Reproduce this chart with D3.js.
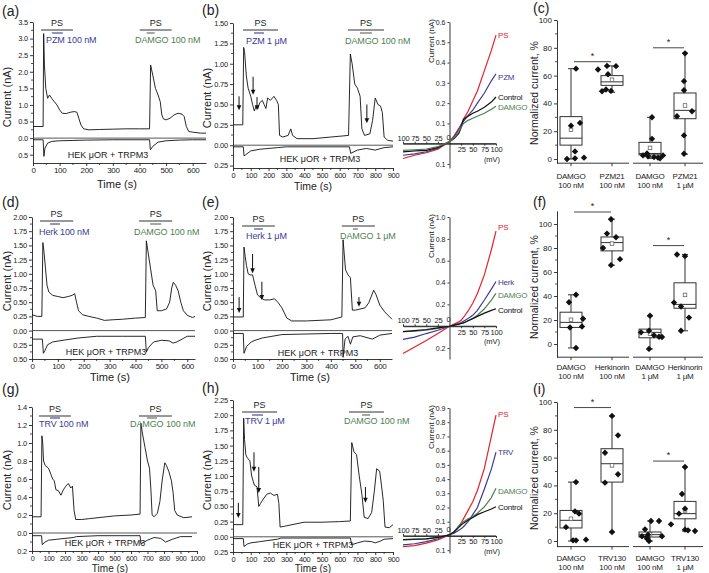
<!DOCTYPE html>
<html><head><meta charset="utf-8">
<script src="https://cdn.jsdelivr.net/npm/d3@7"></script>
<style>body{margin:0;background:#fff}svg{display:block}</style>
</head><body><svg id="c" width="709" height="573"></svg>
<script>
// ================= DATA =================
// Time traces: [time (s), current (nA)] ; top = outward current, bottom = inward current
const aTop = [[0,0.35],[38,0.35],[40,3.15],[43,2.2],[48,1.5],[55,1.2],[62,1.3],[70,1.2],[80,1.1],[90,1.0],[100,0.85],[110,0.75],[125,0.74],[140,0.78],[155,0.8],[165,0.78],[172,0.6],[180,0.4],[190,0.28],[210,0.25],[250,0.26],[300,0.27],[350,0.28],[400,0.28],[438,0.28],[442,2.2],[450,1.9],[460,1.5],[470,1.3],[478,1.1],[484,0.7],[490,0.58],[500,0.55],[515,0.6],[530,0.7],[545,0.75],[560,0.72],[568,0.65],[576,0.35],[585,0.2],[600,0.18],[630,0.15],[650,0.15]];
const aBot = [[0,-0.05],[38,-0.05],[41,-0.55],[45,-0.3],[55,-0.15],[70,-0.1],[100,-0.08],[150,-0.07],[200,-0.06],[300,-0.05],[438,-0.05],[441,-0.35],[450,-0.25],[470,-0.12],[500,-0.08],[550,-0.06],[600,-0.05],[650,-0.05]];
const aPS = [[30,150],[401,521]];
const aDrug = [[71,112],[427,457]];
const aDrugNames = ["PZM 100 nM","DAMGO 100 nM"];

const bTop = [[0,0.25],[55,0.25],[60,1.2],[65,1.15],[75,0.85],[85,0.7],[100,0.6],[110,0.5],[120,0.42],[130,0.48],[140,0.45],[150,0.52],[165,0.55],[175,0.5],[185,0.45],[195,0.58],[210,0.55],[230,0.6],[245,0.55],[255,0.5],[262,0.12],[280,0.1],[310,0.12],[325,0.2],[335,0.12],[360,0.08],[450,0.08],[550,0.1],[650,0.12],[660,1.12],[670,1.0],[685,0.75],[700,0.7],[715,0.6],[725,0.2],[740,0.12],[770,0.14],[785,0.3],[800,0.58],[815,0.5],[830,0.48],[840,0.4],[850,0.1],[870,0.06],[900,0.05]];
const bBot = [[0,-0.02],[58,-0.02],[62,-0.13],[70,-0.12],[100,-0.07],[150,-0.05],[250,-0.03],[300,-0.02],[655,-0.02],[662,-0.1],[700,-0.06],[750,-0.04],[800,-0.06],[850,-0.03],[900,-0.02]];
const bPS = [[56,253],[647,849]];
const bDrug = [[118,174],[714,782]];
const bDrugNames = ["PZM 1 μM","DAMGO 100 nM"];
const bArrows = [[34,0.6,0.43],[113,0.84,0.62],[135,0.59,0.43],[753,0.5,0.27]];

const dTop = [[0,0.28],[20,0.25],[38,0.25],[42,1.55],[46,1.4],[52,1.1],[58,0.8],[65,0.68],[80,0.62],[100,0.6],[120,0.58],[140,0.6],[155,0.62],[165,0.65],[172,0.5],[180,0.35],[195,0.28],[220,0.25],[250,0.22],[280,0.18],[310,0.19],[350,0.2],[400,0.22],[438,0.23],[442,1.58],[448,1.4],[458,1.1],[468,0.8],[478,0.7],[484,0.35],[500,0.35],[520,0.38],[532,0.5],[540,0.75],[546,0.85],[555,0.8],[565,0.7],[575,0.5],[585,0.35],[600,0.27],[620,0.23],[630,0.25]];
const dBot = [[0,-0.15],[40,-0.15],[44,-0.4],[50,-0.35],[60,-0.25],[80,-0.2],[120,-0.17],[180,-0.13],[250,-0.1],[350,-0.1],[438,-0.1],[442,-0.38],[450,-0.3],[470,-0.2],[500,-0.17],[530,-0.18],[545,-0.22],[560,-0.2],[580,-0.15],[600,-0.1],[630,-0.1]];
const dPS = [[31,159],[414,542]];
const dDrug = [[70,108],[457,499]];
const dDrugNames = ["Herk 100 nM","DAMGO 100 nM"];

const eTop = [[0,0.24],[42,0.24],[45,1.47],[50,1.3],[55,1.15],[62,1.0],[70,0.98],[80,0.98],[90,0.8],[100,0.63],[115,0.57],[130,0.54],[150,0.54],[170,0.56],[185,0.49],[200,0.4],[220,0.22],[240,0.17],[300,0.17],[400,0.19],[445,0.24],[450,1.6],[460,1.07],[470,0.98],[480,0.93],[488,0.36],[500,0.36],[540,0.4],[555,0.49],[575,0.71],[585,0.63],[600,0.45],[620,0.33],[650,0.2]];
const eBot = [[0,-0.05],[42,-0.05],[45,-0.4],[55,-0.28],[65,-0.24],[75,-0.2],[90,-0.17],[120,-0.13],[200,-0.07],[400,-0.05],[448,-0.05],[450,-0.47],[458,-0.15],[470,-0.1],[480,-0.24],[490,-0.11],[520,-0.09],[570,-0.15],[600,-0.08],[650,-0.05]];
const ePS = [[37,171],[445,580]];
const eDrug = [[86,122],[490,510]];
const eDrugNames = ["Herk 1 μM","DAMGO 1 μM"];
const eArrows = [[25,0.59,0.31],[80,1.35,1.01],[118,0.86,0.54],[515,0.59,0.42]];

const gTop = [[0,0.18],[55,0.18],[60,1.08],[65,1.0],[70,0.8],[80,0.75],[100,0.72],[115,0.65],[125,0.6],[135,0.58],[145,0.48],[160,0.47],[175,0.42],[190,0.48],[205,0.52],[220,0.55],[235,0.5],[245,0.52],[255,0.25],[265,0.15],[300,0.15],[350,0.16],[400,0.17],[500,0.19],[600,0.2],[655,0.21],[660,1.22],[670,1.1],[685,0.95],[700,0.8],[712,0.72],[720,0.5],[728,0.2],[740,0.18],[760,0.22],[775,0.35],[790,0.6],[805,0.78],[815,0.75],[830,0.68],[845,0.58],[855,0.45],[865,0.25],[880,0.2],[920,0.17],[970,0.18]];
const gBot = [[0,-0.03],[58,-0.03],[62,-0.13],[80,-0.1],[100,-0.08],[150,-0.07],[250,-0.05],[270,-0.04],[400,-0.03],[655,-0.03],[660,-0.12],[700,-0.08],[740,-0.05],[780,-0.06],[810,-0.1],[850,-0.07],[900,-0.04],[970,-0.04]];
const gPS = [[42,236],[648,848]];
const gDrug = [[109,170],[697,758]];
const gDrugNames = ["TRV 100 nM","DAMGO 100 nM"];

const hTop = [[0,0.2],[55,0.2],[60,1.95],[65,1.6],[72,1.35],[80,1.3],[95,1.25],[105,1.0],[120,0.85],[135,0.82],[145,0.5],[155,0.55],[170,0.62],[190,0.7],[210,0.72],[230,0.68],[250,0.7],[258,0.55],[265,0.16],[300,0.18],[400,0.24],[500,0.24],[600,0.25],[660,0.26],[668,1.55],[680,1.4],[695,1.35],[710,1.0],[725,0.7],[738,0.32],[760,0.3],[780,0.4],[795,0.75],[808,1.12],[825,1.08],[835,0.85],[845,0.6],[855,0.16],[880,0.15],[900,0.2]];
const hBot = [[0,-0.03],[58,-0.03],[62,-0.16],[80,-0.12],[100,-0.1],[150,-0.08],[250,-0.04],[270,-0.02],[660,-0.02],[668,-0.13],[700,-0.1],[740,-0.07],[780,-0.08],[800,-0.1],[830,-0.07],[850,-0.04],[900,-0.03]];
const hPS = [[51,248],[652,849]];
const hDrug = [[107,169],[726,771]];
const hDrugNames = ["TRV 1 μM","DAMGO 100 nM"];
const hArrows = [[30,0.56,0.31],[118,1.39,1.07],[145,1.15,0.72],[745,0.82,0.56]];

// Tick values
const ticks600 = [0,100,200,300,400,500,600];
const ticks900 = [0,100,200,300,400,500,600,700,800,900];
const ticks1000 = [0,100,200,300,400,500,600,700,800,900,1000];
const aYTicks = [-0.5,0,0.5,1,1.5,2,2.5,3,3.5];
const bYTicks = [-0.25,0,0.25,0.5,0.75,1,1.25,1.5];
const dYTicks = [-0.5,-0.25,0,0.25,0.5,0.75,1,1.25,1.5,1.75,2];
const gYTicks = [-0.2,0,0.2,0.4,0.6,0.8,1,1.2,1.4];
const hYTicks = [-0.25,0,0.25,0.5,0.75,1,1.25,1.5,1.75,2,2.25];

// I-V curves (mV -> nA)
const ivMV = [-100,-75,-50,-25,0,10,20,25,30,40,50,60,75,90,100];
const ivB = {
  PS:[-0.073,-0.057,-0.045,-0.027,0.01,0.04,0.075,0.09,0.12,0.16,0.21,0.26,0.36,0.46,0.535],
  PZM:[-0.057,-0.05,-0.04,-0.022,0.01,0.035,0.07,0.095,0.11,0.14,0.165,0.2,0.25,0.31,0.345],
  Control:[-0.04,-0.036,-0.033,-0.018,0.01,0.025,0.05,0.08,0.12,0.135,0.15,0.16,0.18,0.205,0.23],
  DAMGO:[-0.033,-0.03,-0.027,-0.015,0.01,0.03,0.06,0.08,0.1,0.115,0.125,0.135,0.15,0.17,0.185]};
const ivE = {
  PS:[-0.25,-0.19,-0.13,-0.067,0,0.02,0.04,0.055,0.08,0.14,0.21,0.3,0.47,0.7,0.87],
  Herk:[-0.12,-0.1,-0.067,-0.037,0,0.012,0.025,0.034,0.045,0.07,0.1,0.145,0.24,0.34,0.41],
  DAMGO:[-0.05,-0.045,-0.037,-0.02,0,0.01,0.02,0.025,0.03,0.05,0.07,0.1,0.16,0.24,0.3],
  Control:[-0.05,-0.04,-0.03,-0.015,0,0.01,0.02,0.025,0.03,0.05,0.07,0.09,0.12,0.145,0.16]};
const ivH = {
  PS:[-0.075,-0.068,-0.05,-0.028,0.007,0.03,0.065,0.09,0.12,0.18,0.24,0.32,0.475,0.7,0.85],
  TRV:[-0.063,-0.055,-0.04,-0.02,0.01,0.02,0.04,0.05,0.065,0.1,0.15,0.2,0.33,0.47,0.59],
  DAMGO:[-0.03,-0.025,-0.02,-0.01,0.007,0.03,0.07,0.09,0.1,0.12,0.135,0.16,0.205,0.27,0.335],
  Control:[-0.025,-0.022,-0.02,-0.01,0.007,0.03,0.06,0.077,0.09,0.11,0.13,0.15,0.17,0.19,0.205]};
const ivBTicks = [-0.1,0.1,0.2,0.3,0.4,0.5,0.6];
const ivETicks = [-0.2,0.2,0.4,0.6,0.8,1.0];
const ivHTicks = [-0.1,0.1,0.2,0.3,0.4,0.5,0.6,0.7,0.8,0.9];
const mvLeftTicks = [-100,-75,-50,-25];
const mvRightTicks = [25,50,75,100];

// Box plots: stats = [min, q1, median, q3, max, mean]
const cCats = [["DAMGO","100 nM"],["PZM21","100 nM"],["DAMGO","100 nM"],["PZM21","1 μM"]];
const cStats = [[0,10,15,30.5,65,21],[48,53,55.5,60,67,57],[0.5,3,4,12,30,8],[3.5,29,35,47.5,76,38.5]];
const cPts = [[65,26,24,5.5,1,0.5,0],[67,66.8,64.4,61,50,49,48.8],[30,14.5,4,2.6,2.6,2,1.4,1,0.5],[76,56,49.5,34.4,30.8,17,3.8]];
const cSig = [70,80];
const fCats = [["DAMGO","100 nM"],["Herkinorin","100 nM"],["DAMGO","1 μM"],["Herkinorin","1 μM"]];
const fStats = [[-3.3,13.8,18,26.5,41,20.2],[65.7,77.6,84.5,89.2,104,83.7],[-4.1,5.2,9.7,12.4,23.5,8.6],[11,29.8,33,51,74.6,40.9]];
const fPts = [[41,34.8,21,14.6,13.8,-3.3],[104,92,89,80,70.7,65.7],[23.5,11,9.7,7.2,6,5.8,-4.1],[74.6,73.2,34.5,31.2,22,11]];
const fSig = [110,82];
const iCats = [["DAMGO","100 nM"],["TRV130","100 nM"],["DAMGO","100 nM"],["TRV130","1 μM"]];
const iStats = [[0,9.4,14.9,22,42.4,16],[6.5,42.4,55.6,66.4,90,54.4],[0,2.9,4.6,6.5,14.4,4.8],[7.2,16,19.7,28.5,53.2,22]];
const iPts = [[42.4,21.3,19.7,10,1,0.5,0.5],[90,76,63.5,48,42,6.5],[14.4,14.4,8.4,4.6,3.4,3.4,2.9,1.7,0],[53.2,33.8,23.3,19.7,12,8.2,7.7,7.2]];
const iSig = [96,57.5];
const boxTicks = [0,20,40,60,80,100];

// ================= DRAWING =================
const FONT = '"Liberation Sans", Arial, Helvetica, sans-serif';
const INK = "#222";
const BLUE = "#3a3a98", GREEN = "#4f7f4f", RED = "#e8202a";
const svg = d3.select("#c");

function styleAxis(sel, fs, ls){
  sel.attr("font-family", FONT).attr("font-size", fs);
  if(ls!==undefined) sel.attr("letter-spacing", ls);
  sel.selectAll("path,line").attr("stroke", INK).attr("stroke-width", 0.9);
  sel.selectAll("text").attr("fill", INK);
}
function txt(g, x, y, s, o={}){
  const t = g.append("text").attr("x",x).attr("y",y).text(s)
    .attr("font-family",FONT).attr("font-size",o.fs||9).attr("fill",o.fill||INK)
    .attr("text-anchor",o.anchor||"start");
  if(o.ls!==undefined) t.attr("letter-spacing",o.ls);
  if(o.rot) t.attr("transform",`rotate(-90,${x},${y})`);
  return t;
}
function midTicks(arr){ return arr.slice(1).map((d,i)=>(d+arr[i])/2); }

function tracePanel(p){
  const g = svg.append("g");
  const x = d3.scaleLinear().domain([0,p.tMax]).range([p.x0,p.x1]);
  const y = d3.scaleLinear().domain([p.yMin,p.yMax]).range([p.yBot,p.yTop]);
  const ya = g.append("g").attr("transform",`translate(${p.x0},0)`)
    .call(d3.axisLeft(y).tickValues(p.yTicks).tickFormat(d=>Math.abs(d).toFixed(p.dec)).tickSize(3).tickSizeOuter(0).tickPadding(2));
  styleAxis(ya, 7.5, -0.2);
  g.append("g").selectAll("line").data(midTicks(p.yTicks)).join("line")
    .attr("x1",p.x0-2).attr("x2",p.x0).attr("y1",d=>y(d)).attr("y2",d=>y(d)).attr("stroke",INK).attr("stroke-width",0.8);
  const xa = g.append("g").attr("transform",`translate(0,${p.yBot})`)
    .call(d3.axisBottom(x).tickValues(p.xTicks).tickFormat(d3.format("d")).tickSize(3).tickSizeOuter(0).tickPadding(1.5));
  styleAxis(xa, p.xfs||8, -0.35);
  g.append("g").selectAll("line").data(midTicks(p.xTicks)).join("line")
    .attr("y1",p.yBot).attr("y2",p.yBot+2).attr("x1",d=>x(d)).attr("x2",d=>x(d)).attr("stroke",INK).attr("stroke-width",0.8);
  // zero line
  g.append("line").attr("x1",p.x0).attr("x2",p.x1).attr("y1",y(0)).attr("y2",y(0)).attr("stroke","#444").attr("stroke-width",0.9);
  const line = d3.line().x(d=>x(d[0])).y(d=>y(d[1]));
  [p.top,p.bot].forEach(s=>g.append("path").attr("d",line(s)).attr("fill","none").attr("stroke","#111").attr("stroke-width",0.9));
  // PS bars and drug bars
  p.ps.forEach((b,i)=>{
    g.append("line").attr("x1",x(b[0])).attr("x2",x(b[1])).attr("y1",p.psY).attr("y2",p.psY).attr("stroke","#333").attr("stroke-width",1.1);
    txt(g,(x(b[0])+x(b[1]))/2,p.psY-4,"PS",{fs:9,anchor:"middle"});
  });
  p.drug.forEach((b,i)=>{
    const col = i===0?BLUE:GREEN;
    g.append("line").attr("x1",x(b[0])).attr("x2",x(b[1])).attr("y1",p.drugY).attr("y2",p.drugY).attr("stroke",i===0?BLUE:"#556655").attr("stroke-width",1.1);
    txt(g,p.drugTextX[i],p.drugTextY,p.drugNames[i],{fs:9,fill:col,ls:-0.1});
  });
  (p.arrows||[]).forEach(a=>{
    const ax = x(a[0]), y1 = y(a[1]), y2 = y(a[2]);
    g.append("line").attr("x1",ax).attr("x2",ax).attr("y1",y1).attr("y2",y2-4).attr("stroke","#111").attr("stroke-width",1);
    g.append("path").attr("d",`M${ax-2.3},${y2-5}L${ax+2.3},${y2-5}L${ax},${y2}Z`).attr("fill","#111");
  });
  txt(g,p.hekX,p.hekY,"HEK μOR + TRPM3",{fs:9,anchor:"middle"});
  txt(g,p.ytX,p.ytY,"Current (nA)",{fs:11,anchor:"middle",rot:true});
  txt(g,p.xtX,p.xtY,"Time (s)",{fs:p.xtfs||11,anchor:"middle"});
  txt(svg,p.labX,p.labY,p.label,{fs:14});
}

function ivPanel(p){
  const g = svg.append("g");
  const x = d3.scaleLinear().domain([-100,100]).range([p.x0,p.x1]);
  const y = d3.scaleLinear().domain([p.yMin,p.yMax]).range([p.yBot,p.yTop]);
  const ya = g.append("g").attr("transform",`translate(${x(0)},0)`)
    .call(d3.axisLeft(y).tickValues(p.yTicks).tickFormat(d=>Math.abs(d).toFixed(1)).tickSize(2).tickSizeOuter(0).tickPadding(2));
  styleAxis(ya, 7);
  const xl = g.append("g").attr("transform",`translate(0,${y(0)})`)
    .call(d3.axisTop(x).tickValues(mvLeftTicks).tickFormat(d=>Math.abs(d)).tickSize(2).tickSizeOuter(0).tickPadding(1));
  styleAxis(xl, 7.5, -0.2);
  xl.select("path").remove();
  const xr = g.append("g").attr("transform",`translate(0,${y(0)})`)
    .call(d3.axisBottom(x).tickValues(mvRightTicks).tickFormat(d=>d).tickSize(2).tickSizeOuter(0).tickPadding(1));
  styleAxis(xr, 7.5, -0.2);
  g.append("line").attr("x1",x(-100)).attr("x2",x(100)).attr("y1",y(0)).attr("y2",y(0)).attr("stroke",INK).attr("stroke-width",0.9);
  txt(g,x(0)-1,y(0)-4,"0",{fs:7.5,anchor:"middle"});
  txt(g,x(100)-4,y(0)+18,"(mV)",{fs:7.5,anchor:"middle"});
  txt(g,p.ytX,p.yTop-3,"Current (nA)",{fs:8,anchor:"end",rot:true});
  const line = d3.line().x((d,i)=>x(ivMV[i])).y(d=>y(d));
  p.curves.forEach(c=>{
    g.append("path").attr("d",line(p.data[c.key])).attr("fill","none").attr("stroke",c.col).attr("stroke-width",1.2);
    txt(g,p.x1+2,c.ly,c.key,{fs:8,fill:c.col,ls:-0.2});
  });
}

function boxPanel(p){
  const g = svg.append("g");
  const y = d3.scaleLinear().domain([p.yMin,p.yMax]).range([p.yBot,p.yTop]);
  const ya = g.append("g").attr("transform",`translate(${p.ax},0)`)
    .call(d3.axisLeft(y).tickValues(boxTicks).tickSize(3).tickSizeOuter(0).tickPadding(2));
  styleAxis(ya, 8);
  g.append("g").selectAll("line").data(midTicks(boxTicks)).join("line")
    .attr("x1",p.ax-2).attr("x2",p.ax).attr("y1",d=>y(d)).attr("y2",d=>y(d)).attr("stroke",INK).attr("stroke-width",0.8);
  p.segs.forEach(s=>g.append("line").attr("x1",s[0]).attr("x2",s[1]).attr("y1",p.yBot).attr("y2",p.yBot).attr("stroke",INK).attr("stroke-width",0.9));
  const bw = p.bw;
  p.stats.forEach((s,i)=>{
    const cx = p.cx[i];
    g.append("line").attr("x1",cx).attr("x2",cx).attr("y1",p.yBot).attr("y2",p.yBot+3).attr("stroke",INK).attr("stroke-width",0.9);
    g.append("line").attr("x1",cx).attr("x2",cx).attr("y1",y(s[0])).attr("y2",y(s[1])).attr("stroke","#333");
    g.append("line").attr("x1",cx).attr("x2",cx).attr("y1",y(s[3])).attr("y2",y(s[4])).attr("stroke","#333");
    [s[0],s[4]].forEach(v=>g.append("line").attr("x1",cx-3).attr("x2",cx+3).attr("y1",y(v)).attr("y2",y(v)).attr("stroke","#333"));
    g.append("rect").attr("x",cx-bw/2).attr("y",y(s[3])).attr("width",bw).attr("height",y(s[1])-y(s[3])).attr("fill","none").attr("stroke","#333").attr("stroke-width",1);
    g.append("line").attr("x1",cx-bw/2).attr("x2",cx+bw/2).attr("y1",y(s[2])).attr("y2",y(s[2])).attr("stroke","#333");
    g.append("rect").attr("x",cx-1.8).attr("y",y(s[5])-1.8).attr("width",3.6).attr("height",3.6).attr("fill","#fff").attr("stroke","#555").attr("stroke-width",0.7);
    p.pts[i].forEach((v,j)=>{
      const px = cx + p.jit[i][j], py = y(v);
      g.append("path").attr("d",`M${px},${py-3.2}L${px+3.2},${py}L${px},${py+3.2}L${px-3.2},${py}Z`).attr("fill","#111");
    });
    txt(g,cx,p.catY,p.cats[i][0],{fs:8,anchor:"middle",ls:-0.2});
    txt(g,cx,p.catY+9,p.cats[i][1],{fs:8,anchor:"middle",ls:-0.2});
  });
  p.sig.forEach((v,k)=>{
    const xa = p.cx[2*k]+3, xb = p.cx[2*k+1]-1;
    g.append("line").attr("x1",xa).attr("x2",xb).attr("y1",y(v)).attr("y2",y(v)).attr("stroke","#333").attr("stroke-width",0.9);
    txt(g,(xa+xb)/2,y(v)-3,"*",{fs:9,anchor:"middle"});
  });
  txt(g,538,p.ytY,"Normalized current, %",{fs:10.5,anchor:"middle",rot:true});
  txt(svg,533,p.labY,p.label,{fs:14});
}

// ---------- trace panels ----------
tracePanel({label:"(a)",labX:2,labY:16,x0:33,x1:206,tMax:650,yMin:-0.75,yMax:3.5,yBot:163,yTop:22,dec:1,
  yTicks:aYTicks,xTicks:ticks600,top:aTop,bot:aBot,ps:aPS,drug:aDrug,drugNames:aDrugNames,
  psY:30,drugY:33,drugTextX:[46,135],drugTextY:43,hekX:108,hekY:158,ytX:11,ytY:97,xtX:117,xtY:188});
tracePanel({label:"(b)",labX:202,labY:15,x0:233,x1:393,tMax:900,yMin:-0.28,yMax:1.5,yBot:168,yTop:23,dec:2,xfs:7.5,xtfs:10.5,
  yTicks:bYTicks,xTicks:ticks900,top:bTop,bot:bBot,ps:bPS,drug:bDrug,drugNames:bDrugNames,arrows:bArrows,
  psY:30,drugY:33,drugTextX:[246,345],drugTextY:44,hekX:320,hekY:162,ytX:211,ytY:98,xtX:313,xtY:190});
tracePanel({label:"(d)",labX:2,labY:207,x0:32,x1:195,tMax:630,yMin:-0.5,yMax:2,yBot:359,yTop:217,dec:2,
  yTicks:dYTicks,xTicks:ticks600,top:dTop,bot:dBot,ps:dPS,drug:dDrug,drugNames:dDrugNames,
  psY:221,drugY:224,drugTextX:[39,134],drugTextY:235,hekX:106,hekY:355,ytX:11,ytY:281,xtX:110,xtY:381});
tracePanel({label:"(e)",labX:202,labY:207,x0:233,x1:392,tMax:650,yMin:-0.5,yMax:2,yBot:359,yTop:217,dec:2,
  yTicks:dYTicks,xTicks:ticks600,top:eTop,bot:eBot,ps:ePS,drug:eDrug,drugNames:eDrugNames,arrows:eArrows,
  psY:226,drugY:229,drugTextX:[246,340],drugTextY:239,hekX:318,hekY:356,ytX:211,ytY:281,xtX:310,xtY:381});
tracePanel({label:"(g)",labX:2,labY:394,x0:32,x1:197,tMax:1000,yMin:-0.2,yMax:1.4,yBot:551,yTop:407,dec:1,xfs:7.2,xtfs:10,
  yTicks:gYTicks,xTicks:ticks1000,top:gTop,bot:gBot,ps:gPS,drug:gDrug,drugNames:gDrugNames,
  psY:416,drugY:418,drugTextX:[39,130],drugTextY:427,hekX:105,hekY:546,ytX:11,ytY:480,xtX:110,xtY:572});
tracePanel({label:"(h)",labX:202,labY:393,x0:233,x1:393,tMax:900,yMin:-0.25,yMax:2.25,yBot:552,yTop:400,dec:2,xfs:7.5,xtfs:10,
  yTicks:hYTicks,xTicks:ticks900,top:hTop,bot:hBot,ps:hPS,drug:hDrug,drugNames:hDrugNames,arrows:hArrows,
  psY:412,drugY:415,drugTextX:[245,344],drugTextY:424,hekX:313,hekY:548,ytX:211,ytY:480,xtX:313,xtY:572});

// ---------- I-V panels ----------
ivPanel({x0:403,x1:496,yMin:-0.12,yMax:0.6,yBot:168,yTop:22,yTicks:ivBTicks,data:ivB,ytX:434,
  curves:[{key:"PS",col:RED,ly:38},{key:"PZM",col:BLUE,ly:80},{key:"Control",col:"#111",ly:100},{key:"DAMGO",col:GREEN,ly:110}]});
ivPanel({x0:403,x1:496,yMin:-0.3,yMax:1.0,yBot:359,yTop:217,yTicks:ivETicks,data:ivE,ytX:434,
  curves:[{key:"PS",col:RED,ly:230},{key:"Herk",col:BLUE,ly:285},{key:"DAMGO",col:GREEN,ly:298},{key:"Control",col:"#111",ly:313}]});
ivPanel({x0:403,x1:496,yMin:-0.12,yMax:0.9,yBot:553,yTop:408,yTicks:ivHTicks,data:ivH,ytX:434,
  curves:[{key:"PS",col:RED,ly:417},{key:"TRV",col:BLUE,ly:455},{key:"DAMGO",col:GREEN,ly:494},{key:"Control",col:"#111",ly:510}]});

// ---------- box panels ----------
const cxs = [571,612,650,685];
boxPanel({label:"(c)",labY:13,ax:557,yMin:-3,yMax:100,yBot:163.2,yTop:20,cx:cxs,bw:22,segs:[[557,629],[633,703]],
  stats:cStats,pts:cPts,cats:cCats,sig:cSig,catY:179,ytY:93,
  jit:[[5,9,0,4,13,4,-4],[-5,4,-14,-4,-6,-1,-10],[2,2,-3,-7,13,-2,4,8,10],[0,-1,-1,7,-8,-1,-1]]});
boxPanel({label:"(f)",labY:207,ax:557,yMin:-11,yMax:111,yBot:357.2,yTop:210.8,cx:cxs,bw:22,segs:[[557,629],[633,703]],
  stats:fStats,pts:fPts,cats:fCats,sig:fSig,catY:370,ytY:287,
  jit:[[5,-2,12,11,-1,5],[-1,-5,4,-9,8,-1],[0,-1,-9,4,9,12,-1],[-8,0,-11,-4,4,-4]]});
boxPanel({label:"(i)",labY:394,ax:557,yMin:-4,yMax:100,yBot:546.6,yTop:402,cx:cxs,bw:22,segs:[[557,629],[633,703]],
  stats:iStats,pts:iPts,cats:iCats,sig:iSig,catY:561,ytY:478,
  jit:[[5,4,8,-5,15,2,5],[0,6,-7,6,-7,0],[1,9,-5,-2,-8,12,-3,-3,-1],[0,-3,0,-6,-14,0,3,10]]});
</script></body></html>
